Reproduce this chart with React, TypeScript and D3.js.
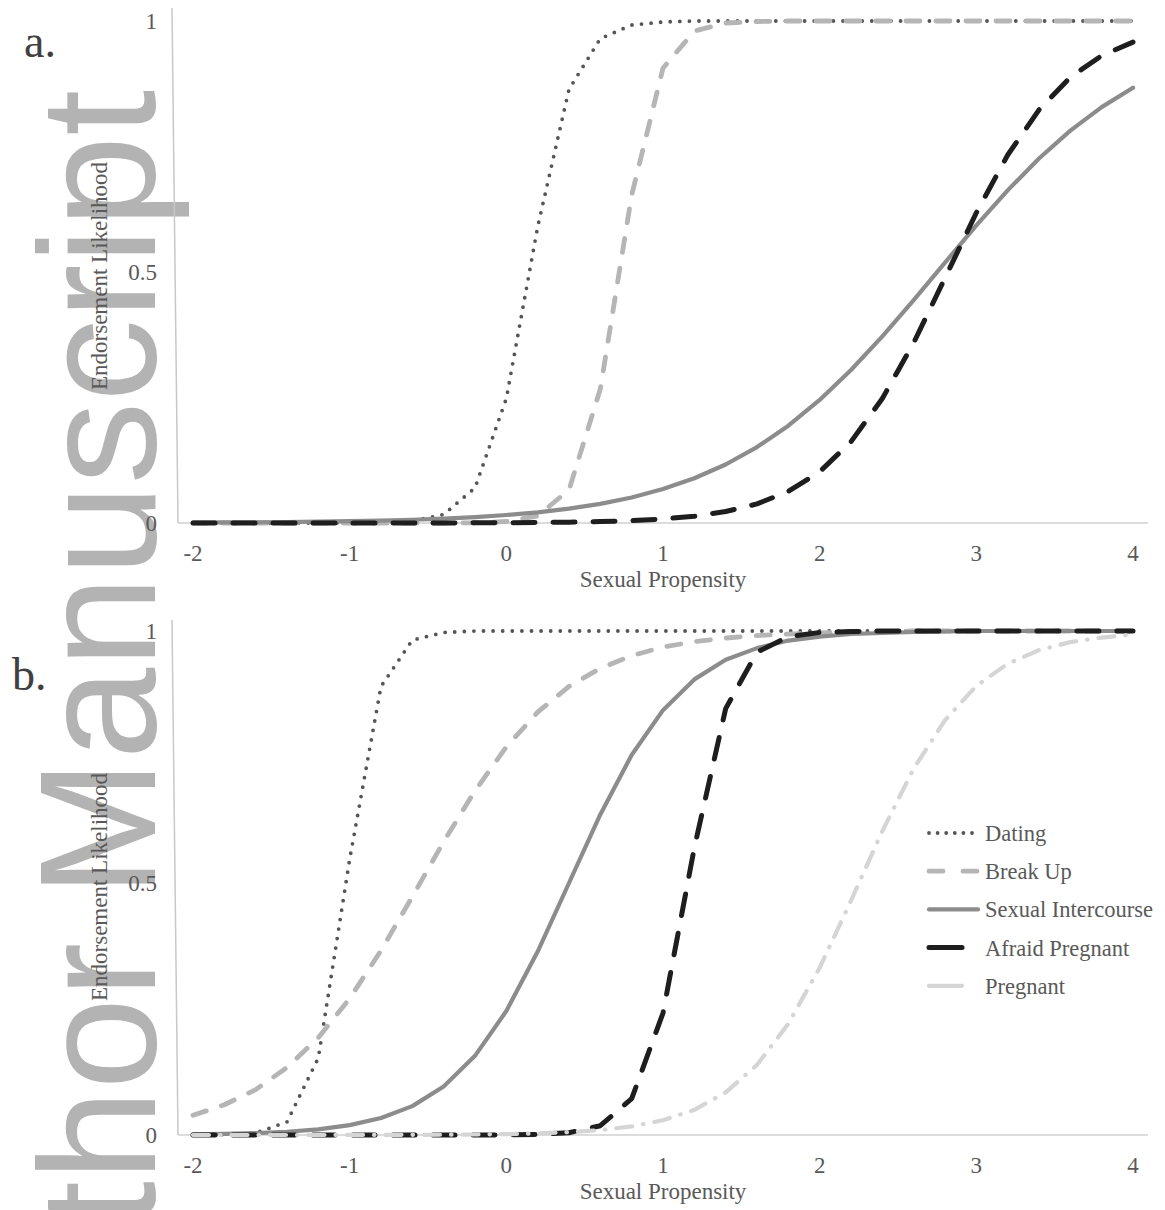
import React from 'react';
import * as d3 from 'd3';

// sexual propensity grid
const xs = [-2, -1.8, -1.6, -1.4, -1.2, -1, -0.8, -0.6, -0.4, -0.2, 0, 0.2, 0.4, 0.6, 0.8, 1, 1.2, 1.4, 1.6, 1.8, 2, 2.2, 2.4, 2.6, 2.8, 3, 3.2, 3.4, 3.6, 3.8, 4];

const xTicks = [-2, -1, 0, 1, 2, 3, 4];
const yTicks = [0, 0.5, 1];
const yTickLabels = ['0', '0.5', '1'];

// panel a
const datingA = [0, 0, 0, 0, 0, 0.0003, 0.001, 0.004, 0.017, 0.07, 0.248, 0.59, 0.864, 0.965, 0.992, 0.998, 1, 1, 1, 1, 1, 1, 1, 1, 1, 1, 1, 1, 1, 1, 1];
const breakUpA = [0, 0, 0, 0, 0, 0, 0, 0, 0, 0.0005, 0.003, 0.014, 0.066, 0.267, 0.653, 0.906, 0.98, 0.996, 0.999, 1, 1, 1, 1, 1, 1, 1, 1, 1, 1, 1, 1];
const sexA = [0.0008, 0.0011, 0.0015, 0.002, 0.0027, 0.0036, 0.0048, 0.0065, 0.0088, 0.0118, 0.0159, 0.0213, 0.0286, 0.0382, 0.0509, 0.0676, 0.0891, 0.1166, 0.1512, 0.1939, 0.2451, 0.3047, 0.3717, 0.444, 0.5187, 0.5927, 0.6626, 0.7261, 0.7816, 0.8285, 0.8671];
const afraidA = [0, 0, 0, 0, 0, 0, 0, 0.0001, 0.0002, 0.0003, 0.0006, 0.001, 0.0016, 0.0028, 0.0047, 0.008, 0.0135, 0.0228, 0.038, 0.063, 0.102, 0.162, 0.248, 0.359, 0.488, 0.618, 0.733, 0.823, 0.888, 0.931, 0.958];

// panel b
const datingB = [0.0001, 0.0006, 0.004, 0.026, 0.153, 0.547, 0.89, 0.982, 0.997, 1, 1, 1, 1, 1, 1, 1, 1, 1, 1, 1, 1, 1, 1, 1, 1, 1, 1, 1, 1, 1, 1];
const breakUpB = [0.039, 0.06, 0.09, 0.134, 0.193, 0.271, 0.366, 0.473, 0.582, 0.683, 0.77, 0.839, 0.89, 0.926, 0.951, 0.968, 0.979, 0.986, 0.991, 0.994, 0.996, 0.998, 0.999, 1, 1, 1, 1, 1, 1, 1, 1];
const sexB = [0.0012, 0.0021, 0.0037, 0.0064, 0.0112, 0.0195, 0.0336, 0.0573, 0.0962, 0.157, 0.246, 0.364, 0.5, 0.636, 0.754, 0.843, 0.904, 0.943, 0.966, 0.981, 0.989, 0.994, 0.996, 0.998, 0.999, 1, 1, 1, 1, 1, 1];
const afraidB = [0, 0, 0, 0, 0, 0, 0, 0, 0, 0, 0.0003, 0.0011, 0.0045, 0.0184, 0.072, 0.242, 0.57, 0.846, 0.958, 0.989, 0.997, 0.999, 1, 1, 1, 1, 1, 1, 1, 1, 1];
const pregnantB = [0, 0, 0, 0, 0, 0.0001, 0.0002, 0.0003, 0.0005, 0.001, 0.0018, 0.0032, 0.0056, 0.0098, 0.017, 0.0293, 0.05, 0.0847, 0.139, 0.221, 0.332, 0.465, 0.603, 0.727, 0.823, 0.891, 0.935, 0.962, 0.978, 0.987, 0.993];

const seriesNames = ['Dating', 'Break Up', 'Sexual Intercourse', 'Afraid Pregnant', 'Pregnant'];

const styles = {
  'Dating': { color: '#555555', width: 3.8, dash: '0 9.6', legendDash: '0 8.6' },
  'Break Up': { color: '#b5b5b5', width: 4.8, dash: '14 16', legendDash: '14 20' },
  'Sexual Intercourse': { color: '#8c8c8c', width: 4.2, dash: null, legendDash: null },
  'Afraid Pregnant': { color: '#1e1e1e', width: 5, dash: '22 18', legendDash: null },
  'Pregnant': { color: '#d5d5d5', width: 4.2, dash: '16 11 0.5 11', legendDash: null },
};

const panels = [
  { label: 'a.', labelX: 24, labelY: 57, top: 21, bottom: 523, axisTop: 8, series: [datingA, breakUpA, sexA, afraidA, null], legend: false },
  { label: 'b.', labelX: 12, labelY: 690, top: 631, bottom: 1135, axisTop: 620, series: [datingB, breakUpB, sexB, afraidB, pregnantB], legend: true },
];

const font = '"Liberation Serif", "Times New Roman", serif';
const textColor = '#595959';

const x = d3.scaleLinear().domain([-2, 4]).range([193, 1133]);

const Panel = ({ p }) => {
  const y = d3.scaleLinear().domain([0, 1]).range([p.bottom, p.top]);
  const line = d3.line().x((d) => x(d[0])).y((d) => y(d[1]));
  const mid = (p.top + p.bottom) / 2;
  return (
    <g>
      <line x1={172} y1={p.axisTop} x2={178} y2={p.bottom} stroke="#c8c8c8" strokeWidth={1.5} />
      <line x1={178} y1={p.bottom} x2={1148} y2={p.bottom} stroke="#d0d0d0" strokeWidth={1.5} />
      {yTicks.map((t, i) => (
        <text key={t} x={157} y={y(t) + 8} textAnchor="end" fontFamily={font} fontSize={23} fill={textColor}>{yTickLabels[i]}</text>
      ))}
      {xTicks.map((t) => (
        <text key={t} x={x(t)} y={p.bottom + 38} textAnchor="middle" fontFamily={font} fontSize={23} fill={textColor}>{t}</text>
      ))}
      <text x={663} y={p.bottom + 64} textAnchor="middle" fontFamily={font} fontSize={23} fill={textColor}>Sexual Propensity</text>
      <text transform={`translate(107, ${mid + 4}) rotate(-90)`} textAnchor="middle" fontFamily={font} fontSize={23} fill={textColor}>Endorsement Likelihood</text>
      <text x={p.labelX} y={p.labelY} fontFamily={font} fontSize={46} fill="#404040">{p.label}</text>
      {p.series.map((vals, i) => {
        if (!vals) return null;
        const st = styles[seriesNames[i]];
        return (
          <path key={i} d={line(xs.map((v, j) => [v, vals[j]]))} fill="none" stroke={st.color} strokeWidth={st.width}
            strokeDasharray={st.dash || undefined} strokeLinecap="round" strokeLinejoin="round" />
        );
      })}
      {p.legend && seriesNames.map((name, i) => {
        const st = styles[name];
        const cy = 833 + i * 38.2;
        const short = name === 'Afraid Pregnant' || name === 'Pregnant';
        return (
          <g key={name}>
            <line x1={929} x2={short ? 962 : 978} y1={cy} y2={cy} stroke={st.color} strokeWidth={st.width}
              strokeDasharray={st.legendDash || undefined} strokeLinecap="round" />
            <text x={985} y={cy + 8} fontFamily={font} fontSize={22.5} fill={textColor}>{name}</text>
          </g>
        );
      })}
    </g>
  );
};

export default function App() {
  return (
    <svg width={1165} height={1210} style={{ position: 'absolute', left: 0, top: 0, background: '#fff' }}>
      <rect width={1165} height={1210} fill="#fff" />
      <text transform="translate(155, 90) rotate(-90)" textAnchor="end" fontFamily='"Liberation Sans", Arial, sans-serif'
        fontSize={165} fill="#b3b3b3">Author Manuscript</text>
      {panels.map((p) => <Panel key={p.label} p={p} />)}
    </svg>
  );
}
